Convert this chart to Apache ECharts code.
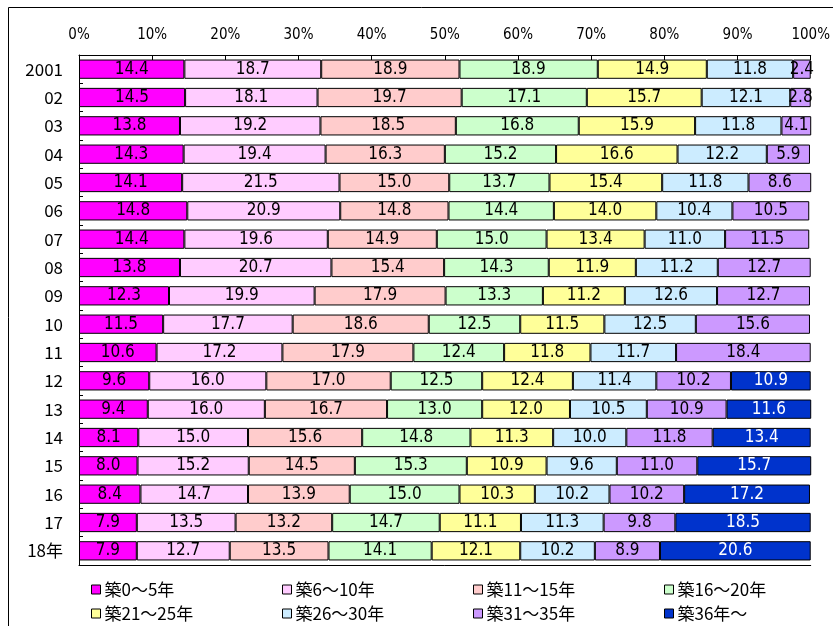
<!DOCTYPE html>
<html>
<head>
<meta charset="utf-8">
<script src="https://cdn.jsdelivr.net/npm/echarts@6/dist/echarts.min.js"></script>
<style>
  html, body { margin: 0; padding: 0; background: #fff; }
  #chart { width: 833px; height: 626px; }
</style>
</head>
<body>
<div id="chart"></div>
<script>
// 年次（上から順）
const years = ['2001', '02', '03', '04', '05', '06', '07', '08', '09', '10', '11', '12', '13', '14', '15', '16', '17', '18年'];

// 築年数区分
const groups = ['築0～5年', '築6～10年', '築11～15年', '築16～20年', '築21～25年', '築26～30年', '築31～35年', '築36年～'];

// 各区分の構成比（%）
const age0to5   = [14.4, 14.5, 13.8, 14.3, 14.1, 14.8, 14.4, 13.8, 12.3, 11.5, 10.6, 9.6, 9.4, 8.1, 8.0, 8.4, 7.9, 7.9];
const age6to10  = [18.7, 18.1, 19.2, 19.4, 21.5, 20.9, 19.6, 20.7, 19.9, 17.7, 17.2, 16.0, 16.0, 15.0, 15.2, 14.7, 13.5, 12.7];
const age11to15 = [18.9, 19.7, 18.5, 16.3, 15.0, 14.8, 14.9, 15.4, 17.9, 18.6, 17.9, 17.0, 16.7, 15.6, 14.5, 13.9, 13.2, 13.5];
const age16to20 = [18.9, 17.1, 16.8, 15.2, 13.7, 14.4, 15.0, 14.3, 13.3, 12.5, 12.4, 12.5, 13.0, 14.8, 15.3, 15.0, 14.7, 14.1];
const age21to25 = [14.9, 15.7, 15.9, 16.6, 15.4, 14.0, 13.4, 11.9, 11.2, 11.5, 11.8, 12.4, 12.0, 11.3, 10.9, 10.3, 11.1, 12.1];
const age26to30 = [11.8, 12.1, 11.8, 12.2, 11.8, 10.4, 11.0, 11.2, 12.6, 12.5, 11.7, 11.4, 10.5, 10.0, 9.6, 10.2, 11.3, 10.2];
const age31to35 = [2.4, 2.8, 4.1, 5.9, 8.6, 10.5, 11.5, 12.7, 12.7, 15.6, 18.4, 10.2, 10.9, 11.8, 11.0, 10.2, 9.8, 8.9];
const age36plus = [null, null, null, null, null, null, null, null, null, null, null, 10.9, 11.6, 13.4, 15.7, 17.2, 18.5, 20.6];

// x軸目盛
const xTicks = ['0%', '10%', '20%', '30%', '40%', '50%', '60%', '70%', '80%', '90%', '100%'];

const seriesValues = [age0to5, age6to10, age11to15, age16to20, age21to25, age26to30, age31to35, age36plus];
const colors = ['#FF00FF', '#FFCCFF', '#FFCCCC', '#CCFFCC', '#FFFF99', '#CCECFF', '#CC99FF', '#0033CC'];

const labelFont = '"DejaVu Sans Condensed", "Liberation Sans Narrow", sans-serif';
const textFont = '"Noto Sans CJK JP", "Liberation Sans", sans-serif';

const chart = echarts.init(document.getElementById('chart'));

const series = groups.map((name, i) => ({
  name: name,
  type: 'bar',
  stack: 'total',
  barWidth: '68%',
  data: seriesValues[i],
  itemStyle: { color: colors[i], borderColor: '#000', borderWidth: 1 },
  label: {
    show: true,
    position: 'inside',
    formatter: p => p.value == null ? '' : p.value.toFixed(1),
    color: i === 7 ? '#fff' : '#000',
    fontSize: 17,
    fontFamily: labelFont
  },
  emphasis: { disabled: true },
  animation: false
}));

// 凡例は 4 列 × 2 行に並べる
const legends = groups.map((name, i) => ({
  orient: 'horizontal',
  left: 86 + 191 * (i % 4),
  top: i < 4 ? 576 : 600,
  itemWidth: 9,
  itemHeight: 9,
  itemGap: 0,
  icon: 'rect',
  itemStyle: { borderColor: '#000', borderWidth: 1 },
  textStyle: { fontSize: 17, fontFamily: textFont, color: '#000', padding: [0, 0, 0, -1] },
  selectedMode: false,
  data: [name]
}));

chart.setOption({
  animation: false,
  backgroundColor: '#fff',
  graphic: [{
    type: 'rect',
    shape: { x: 8.5, y: 7.5, width: 900, height: 700 },
    style: { fill: 'none', stroke: '#000', lineWidth: 1 },
    silent: true
  }],
  legend: legends,
  grid: { left: 79, right: 19, top: 55, bottom: 61, containLabel: false },
  xAxis: [{
    type: 'value',
    position: 'top',
    min: 0,
    max: 100,
    interval: 10,
    axisLine: { show: true, lineStyle: { color: '#000', width: 1 } },
    axisTick: { show: true, inside: true, length: 5, lineStyle: { color: '#000' } },
    axisLabel: {
      formatter: v => xTicks[Math.round(v / 10)],
      fontSize: 15,
      fontFamily: labelFont,
      color: '#000',
      margin: 12
    },
    splitLine: { show: false }
  }, {
    type: 'value',
    position: 'bottom',
    min: 0,
    max: 100,
    axisLine: { show: true, lineStyle: { color: '#000', width: 1 } },
    axisTick: { show: false },
    axisLabel: { show: false },
    splitLine: { show: false }
  }],
  yAxis: {
    type: 'category',
    data: years,
    inverse: true,
    axisLine: { show: true, lineStyle: { color: '#000', width: 1 } },
    axisTick: { show: true, inside: true, length: 4, lineStyle: { color: '#000' } },
    axisLabel: { fontSize: 17, fontFamily: textFont, color: '#000', margin: 16 }
  },
  series: series
});
</script>
</body>
</html>
